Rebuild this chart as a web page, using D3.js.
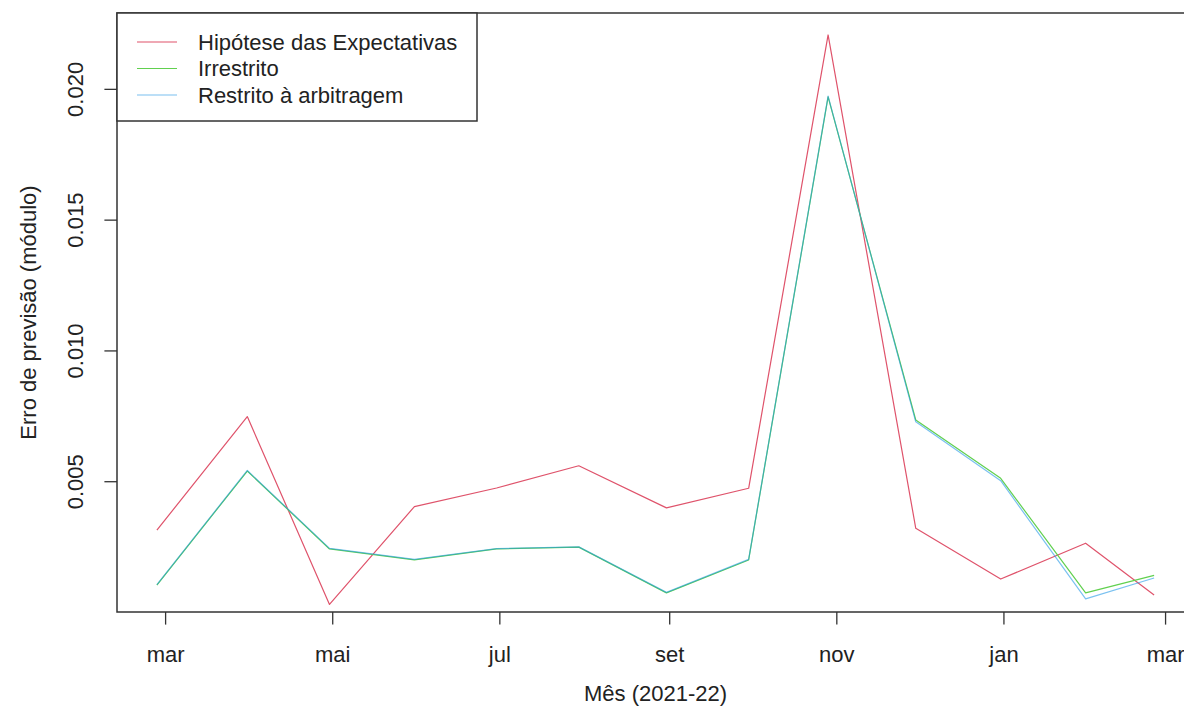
<!DOCTYPE html>
<html>
<head>
<meta charset="utf-8">
<script src="https://cdn.jsdelivr.net/npm/d3@7"></script>
<style>
  body { margin: 0; background: #fff; }
  text { font-family: "Liberation Sans", Arial, sans-serif; fill: #222; }
</style>
</head>
<body>
<div id="chart"></div>
<script>
// last business day of each month, Feb 2021 - Feb 2022
const dates = ['2021-02-26', '2021-03-31', '2021-04-30', '2021-05-31', '2021-06-30', '2021-07-30',
               '2021-08-31', '2021-09-30', '2021-10-29', '2021-11-30', '2021-12-31', '2022-01-31', '2022-02-25'];

const hipotese   = [0.00313, 0.00747, 0.00029, 0.00403, 0.00474, 0.00559, 0.00398, 0.00473, 0.02206, 0.00320, 0.00126, 0.00263, 0.00065];
const irrestrito = [0.00103, 0.00539, 0.00241, 0.00199, 0.00241, 0.00248, 0.00073, 0.00199, 0.01969, 0.00734, 0.00511, 0.00073, 0.00140];
const restrito   = [0.00105, 0.00541, 0.00243, 0.00201, 0.00242, 0.00249, 0.00075, 0.00201, 0.01972, 0.00727, 0.00502, 0.00050, 0.00130];

const seriesNames = ['Hipótese das Expectativas', 'Irrestrito', 'Restrito à arbitragem'];
const seriesColors = ['#DF536B', '#61D04F', '#2297E6'];
const seriesOpacity = [1, 1, 0.6];

const xTickDates = ['2021-03-01', '2021-05-01', '2021-07-01', '2021-09-01', '2021-11-01', '2022-01-01', '2022-03-01'];
const xTickLabels = ['mar', 'mai', 'jul', 'set', 'nov', 'jan', 'mar'];
const yTicks = [0.005, 0.010, 0.015, 0.020];
const yLimits = [0, 0.0229];

const width = 1184;
const height = 722;
const margin = {top: 13, right: -10, bottom: 110, left: 117};
const plotW = width - margin.left - margin.right;
const plotH = height - margin.top - margin.bottom;
const fontSize = 22;
const tickLen = 12.6;

const parse = d3.utcParse('%Y-%m-%d');
const xDates = dates.map(parse);

const svg = d3.select('#chart')
              .append('svg')
              .attr('width', width)
              .attr('height', height);

svg.append('rect').attr('width', width).attr('height', height).attr('fill', '#fff');

// R style 4% padding on the x range
const xExt = d3.extent(xDates);
const pad = (xExt[1] - xExt[0]) * 0.04;
const x = d3.scaleUtc()
            .domain([new Date(+xExt[0] - pad), new Date(+xExt[1] + pad)])
            .range([margin.left, margin.left + plotW]);

const y = d3.scaleLinear()
            .domain(yLimits)
            .range([margin.top + plotH, margin.top]);

svg.append('clipPath').attr('id', 'plot-clip')
   .append('rect')
   .attr('x', margin.left).attr('y', margin.top)
   .attr('width', plotW).attr('height', plotH);

const line = d3.line()
               .x((d, i) => x(xDates[i]))
               .y(d => y(d));

const allSeries = [hipotese, irrestrito, restrito];

svg.append('g')
   .attr('clip-path', 'url(#plot-clip)')
   .selectAll('path')
   .data(allSeries)
   .enter().append('path')
   .attr('d', d => line(d))
   .attr('fill', 'none')
   .attr('stroke', (d, i) => seriesColors[i])
   .attr('stroke-opacity', (d, i) => seriesOpacity[i])
   .attr('stroke-width', 1.2)
   .attr('stroke-linejoin', 'round');

// x axis
const xAxis = svg.append('g')
                 .attr('transform', `translate(0,${margin.top + plotH})`)
                 .call(d3.axisBottom(x)
                         .tickValues(xTickDates.map(parse))
                         .tickFormat((d, i) => xTickLabels[i])
                         .tickSize(tickLen)
                         .tickPadding(22));
xAxis.select('.domain').remove();
xAxis.selectAll('line').attr('stroke', '#333').attr('stroke-width', 1.3);
xAxis.selectAll('text').attr('font-size', fontSize).attr('fill', '#222')
     .style('font-family', '"Liberation Sans", Arial, sans-serif');

// y axis, labels parallel to the axis
const yAxis = svg.append('g')
                 .attr('transform', `translate(${margin.left},0)`)
                 .call(d3.axisLeft(y)
                         .tickValues(yTicks)
                         .tickFormat(d3.format('.3f'))
                         .tickSize(tickLen));
yAxis.select('.domain').remove();
yAxis.selectAll('line').attr('stroke', '#333').attr('stroke-width', 1.3);
yAxis.selectAll('text')
     .attr('font-size', fontSize).attr('fill', '#222')
     .style('font-family', '"Liberation Sans", Arial, sans-serif')
     .attr('x', 0)
     .attr('text-anchor', 'middle')
     .attr('transform', 'translate(-42,0) rotate(-90)')
     .attr('dy', '0.35em');

// box
svg.append('rect')
   .attr('x', margin.left).attr('y', margin.top)
   .attr('width', plotW).attr('height', plotH)
   .attr('fill', 'none')
   .attr('stroke', '#333')
   .attr('stroke-width', 1.5);

// axis titles
svg.append('text')
   .attr('x', margin.left + plotW / 2)
   .attr('y', 693)
   .attr('dy', '0.35em')
   .attr('text-anchor', 'middle')
   .attr('font-size', fontSize)
   .text('Mês (2021-22)');

svg.append('text')
   .attr('transform', `translate(28,${margin.top + plotH / 2}) rotate(-90)`)
   .attr('dy', '0.35em')
   .attr('text-anchor', 'middle')
   .attr('font-size', fontSize)
   .text('Erro de previsão (módulo)');

// legend
const legend = svg.append('g').attr('transform', `translate(${margin.left},${margin.top})`);

legend.append('rect')
      .attr('width', 360)
      .attr('height', 108)
      .attr('fill', '#fff')
      .attr('stroke', '#333')
      .attr('stroke-width', 1.5);

const legendItems = legend.selectAll('.legend-item')
                          .data(seriesNames)
                          .enter().append('g')
                          .attr('class', 'legend-item')
                          .attr('transform', (d, i) => `translate(0,${29 + i * 26.5})`);

legendItems.append('line')
           .attr('x1', 20).attr('x2', 60)
           .attr('stroke', (d, i) => seriesColors[i])
           .attr('stroke-opacity', (d, i) => seriesOpacity[i])
           .attr('stroke-width', 1.2);

legendItems.append('text')
           .attr('x', 81)
           .attr('dy', '0.35em')
           .attr('font-size', fontSize)
           .text(d => d);
</script>
</body>
</html>
